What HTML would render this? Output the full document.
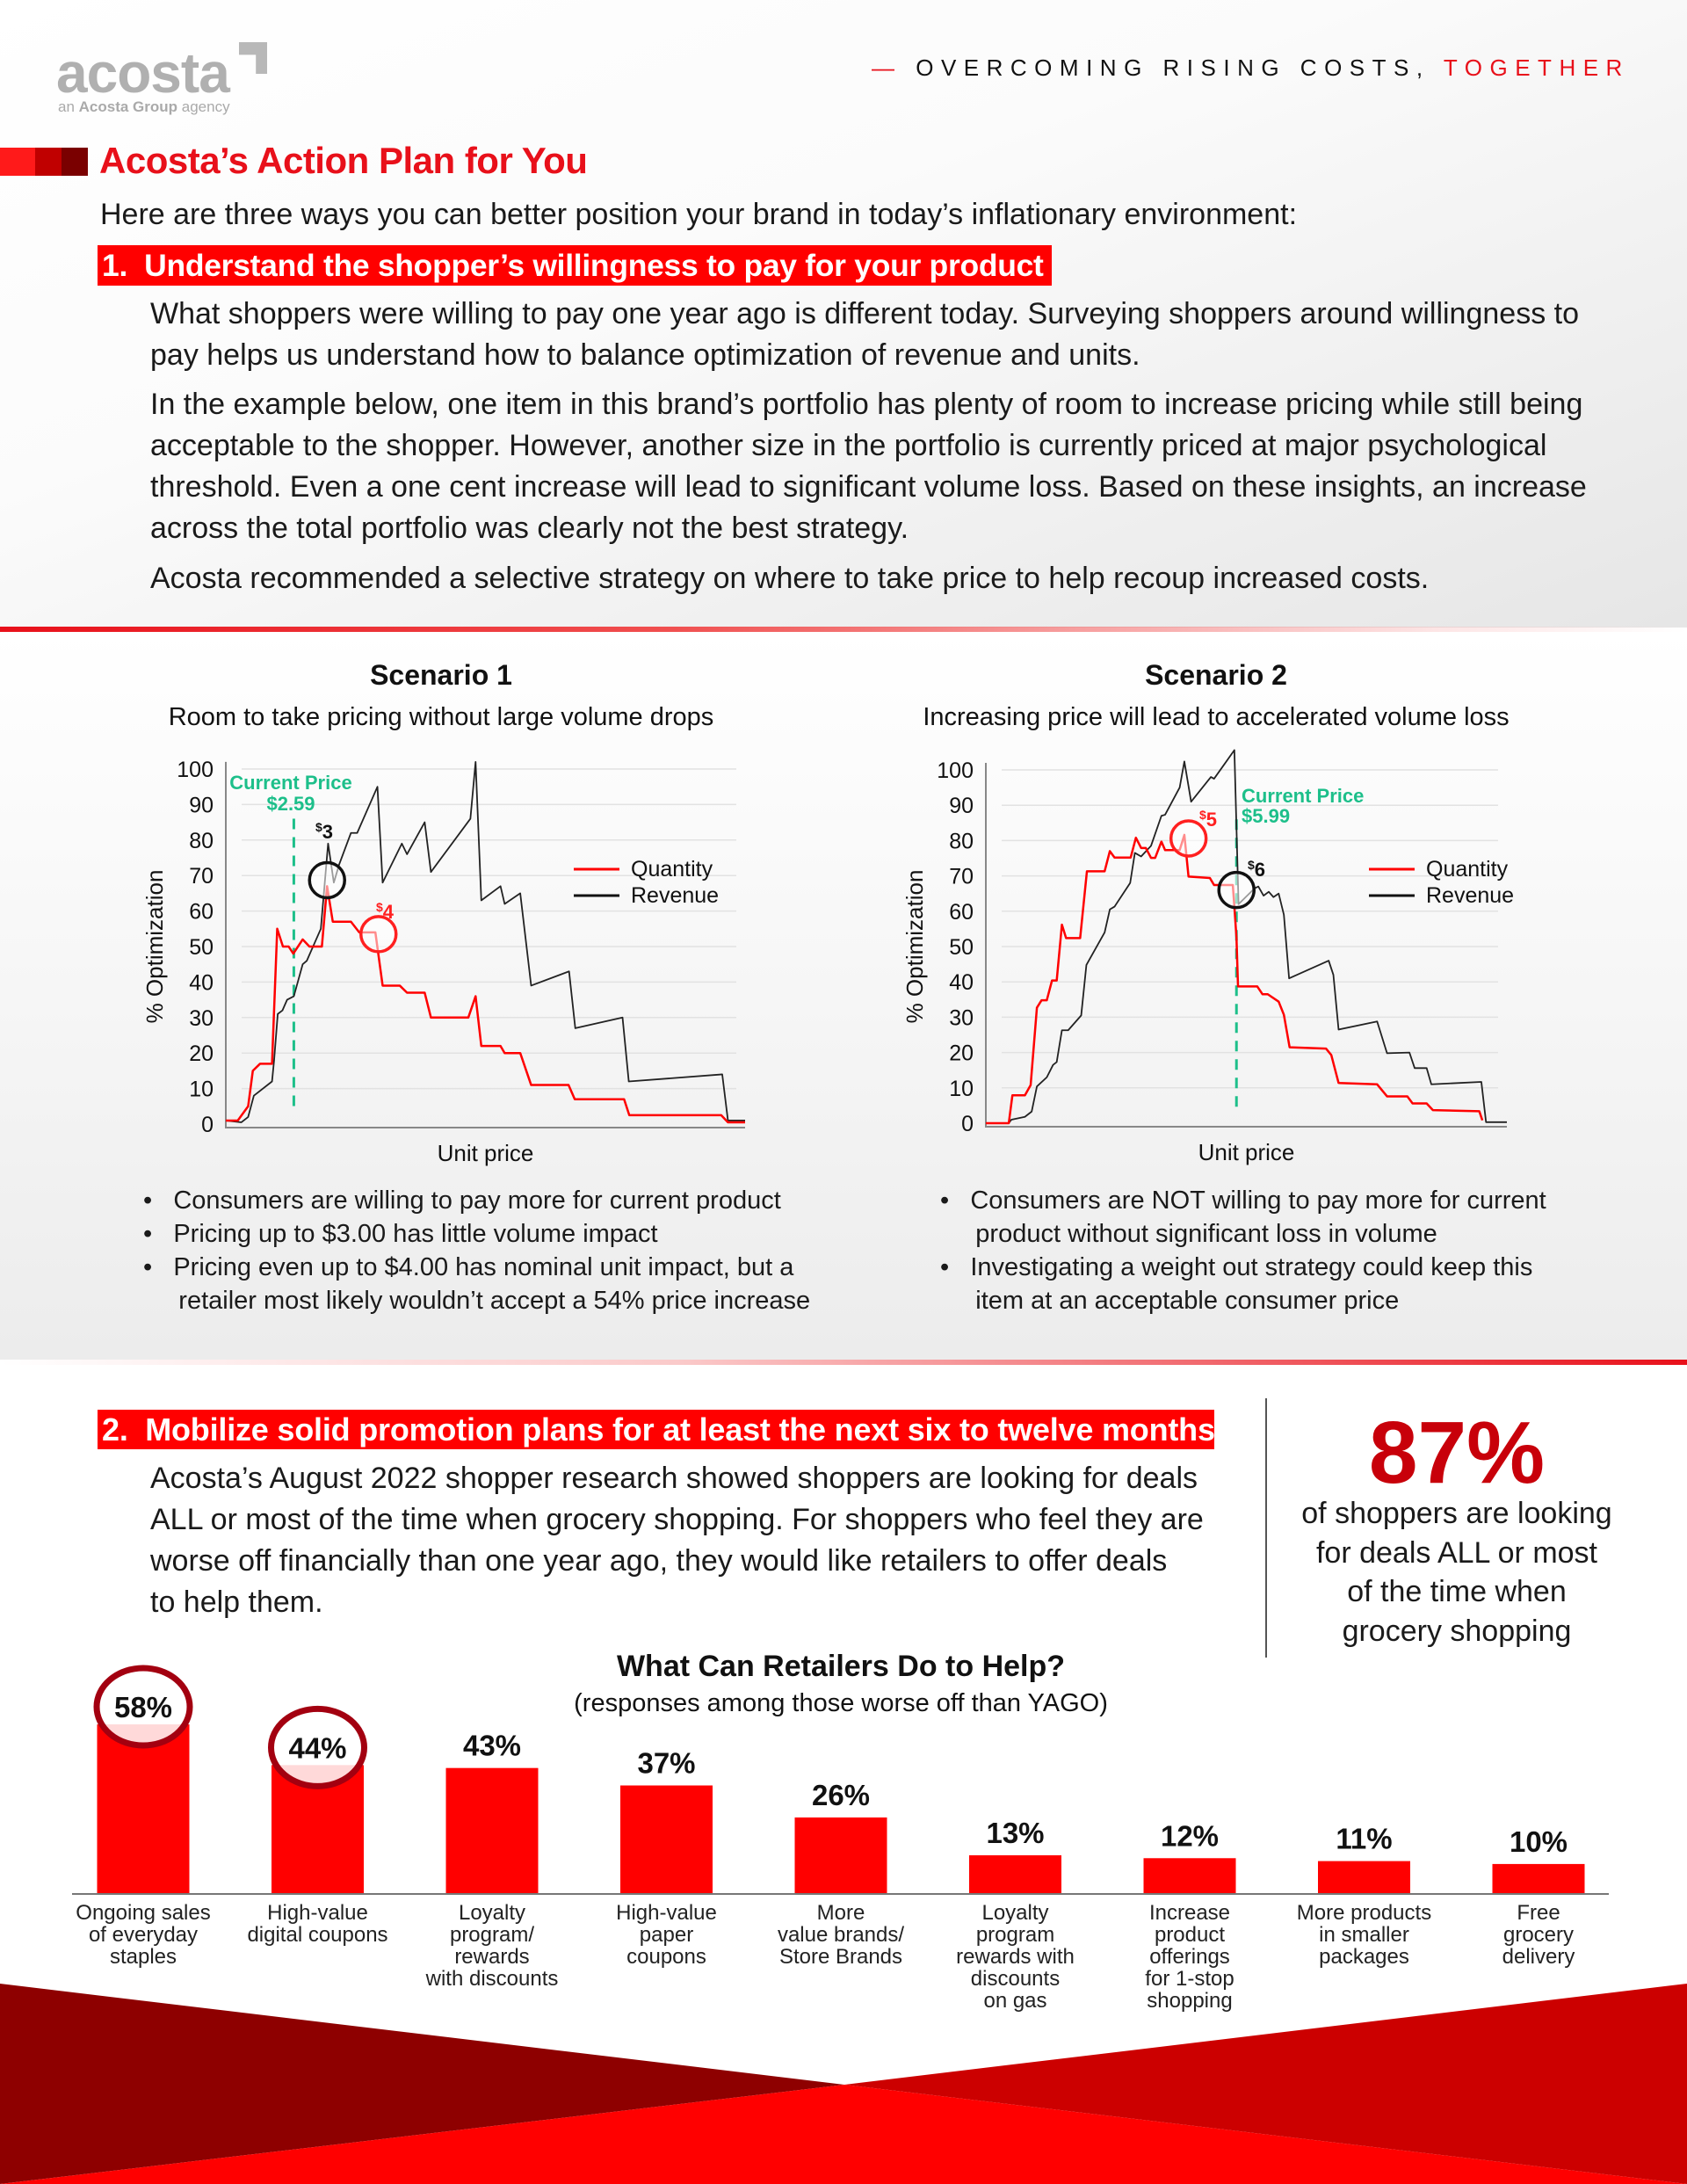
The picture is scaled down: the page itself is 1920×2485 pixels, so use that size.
<!DOCTYPE html>
<html><head><meta charset="utf-8">
<style>
*{margin:0;padding:0;box-sizing:border-box}
body{width:1920px;height:2485px;position:relative;overflow:hidden;font-family:"Liberation Sans",Arial,sans-serif;color:#111;background:#fff}
.a{position:absolute;white-space:nowrap}
.p{font-size:34px;line-height:47px;color:#1a1a1a}
.bul{font-size:29px;line-height:38px;color:#1a1a1a}
</style></head><body>
<div class="a" style="left:0;top:0;width:1920px;height:714px;background:linear-gradient(160deg,#fff 0%,#fbfbfb 40%,#e6e6e6 100%)"></div>
<div class="a" style="left:0;top:713px;width:1920px;height:6px;background:linear-gradient(90deg,#e8101a 0%,#f05050 40%,rgba(240,80,80,0.15) 85%,rgba(255,255,255,0) 100%)"></div>
<div class="a" style="left:0;top:719px;width:1920px;height:828px;background:linear-gradient(180deg,#fff 0%,#f6f6f6 50%,#ececec 100%)"></div>
<div class="a" style="left:0;top:1547px;width:1920px;height:6px;background:linear-gradient(90deg,rgba(255,255,255,0) 0%,rgba(240,80,80,0.3) 40%,#e8101a 100%)"></div>

<div class="a" style="left:64px;top:46px;font-size:64px;font-weight:bold;color:#b0b0b0;letter-spacing:-1px">acosta</div>
<div class="a" style="left:272px;top:48px;width:32px;height:36px;background:#b8b8b8;clip-path:polygon(0 0,100% 0,100% 100%,60% 100%,60% 40%,0 40%)"></div>
<div class="a" style="left:66px;top:112px;font-size:17px;color:#aaa">an <b>Acosta Group</b> agency</div>
<div class="a" style="left:992px;top:62px;font-size:26px;letter-spacing:8.5px;color:#111"><span style="color:#e8101a">—</span> OVERCOMING RISING COSTS, <span style="color:#e8101a">TOGETHER</span></div>

<div class="a" style="left:0;top:168px;width:100px;height:32px;background:linear-gradient(90deg,#ff1a1a 0%,#ff1a1a 40%,#c00000 40%,#c00000 70%,#7a0000 70%)"></div>
<div class="a" style="left:113px;top:159px;font-size:42px;font-weight:bold;color:#e8101a;letter-spacing:-0.5px">Acosta’s Action Plan for You</div>
<div class="a p" style="left:114px;top:221px">Here are three ways you can better position your brand in today’s inflationary environment:</div>
<div class="a" style="left:111px;top:279px;width:1086px;height:46px;background:#ff0000;color:#fff;font-size:35.5px;font-weight:bold;line-height:46px;padding-left:5px;letter-spacing:-0.3px">1.&nbsp; Understand the shopper’s willingness to pay for your product</div>
<div class="a p" style="left:171px;top:334px">What shoppers were willing to pay one year ago is different today. Surveying shoppers around willingness to<br>pay helps us understand how to balance optimization of revenue and units.</div>
<div class="a p" style="left:171px;top:437px;line-height:47px">In the example below, one item in this brand’s portfolio has plenty of room to increase pricing while still being<br>acceptable to the shopper. However, another size in the portfolio is currently priced at major psychological<br>threshold. Even a one cent increase will lead to significant volume loss. Based on these insights, an increase<br>across the total portfolio was clearly not the best strategy.</div>
<div class="a p" style="left:171px;top:635px">Acosta recommended a selective strategy on where to take price to help recoup increased costs.</div>

<div class="a" style="left:302px;top:750px;width:400px;text-align:center;font-size:32px;font-weight:bold">Scenario 1</div>
<div class="a" style="left:102px;top:800px;width:800px;text-align:center;font-size:29px">Room to take pricing without large volume drops</div>
<div class="a" style="left:1184px;top:750px;width:400px;text-align:center;font-size:32px;font-weight:bold">Scenario 2</div>
<div class="a" style="left:984px;top:800px;width:800px;text-align:center;font-size:29px">Increasing price will lead to accelerated volume loss</div>

<svg class="a" id="chart1" style="left:0;top:840px" width="960" height="500"></svg>
<svg class="a" id="chart2" style="left:960px;top:840px" width="960" height="500"></svg>

<div class="a bul" style="left:163px;top:1347px">•&nbsp;&nbsp; Consumers are willing to pay more for current product<br>•&nbsp;&nbsp; Pricing up to $3.00 has little volume impact<br>•&nbsp;&nbsp; Pricing even up to $4.00 has nominal unit impact, but a<br>&nbsp;&nbsp;&nbsp;&nbsp; retailer most likely wouldn’t accept a 54% price increase</div>
<div class="a bul" style="left:1070px;top:1347px">•&nbsp;&nbsp; Consumers are NOT willing to pay more for current<br>&nbsp;&nbsp;&nbsp;&nbsp; product without significant loss in volume<br>•&nbsp;&nbsp; Investigating a weight out strategy could keep this<br>&nbsp;&nbsp;&nbsp;&nbsp; item at an acceptable consumer price</div>

<div class="a" style="left:111px;top:1604px;width:1271px;height:45px;background:#ff0000;color:#fff;font-size:36px;font-weight:bold;line-height:45px;padding-left:5px;letter-spacing:-0.2px">2.&nbsp; Mobilize solid promotion plans for at least the next six to twelve months</div>
<div class="a p" style="left:171px;top:1659px">Acosta’s August 2022 shopper research showed shoppers are looking for deals<br>ALL or most of the time when grocery shopping. For shoppers who feel they are<br>worse off financially than one year ago, they would like retailers to offer deals<br>to help them.</div>
<div class="a" style="left:1440px;top:1591px;width:2px;height:295px;background:#555"></div>
<div class="a" style="left:1458px;top:1598px;width:400px;text-align:center;font-size:100px;font-weight:bold;color:#c8000a;line-height:110px">87%</div>
<div class="a" style="left:1458px;top:1700px;width:400px;text-align:center;font-size:34px;line-height:44.5px;color:#1a1a1a">of shoppers are looking<br>for deals ALL or most<br>of the time when<br>grocery shopping</div>

<div class="a" style="left:557px;top:1877px;width:800px;text-align:center;font-size:34px;font-weight:bold">What Can Retailers Do to Help?</div>
<div class="a" style="left:557px;top:1922px;width:800px;text-align:center;font-size:29px">(responses among those worse off than YAGO)</div>

<svg class="a" id="bottom" style="left:0;top:2250px" width="1920" height="235">
<polygon points="0,7 961,122 0,235" fill="#8e0000"/>
<polygon points="1920,7 961,122 1920,235" fill="#cc0000"/>
<polygon points="0,235 961,122 1920,235" fill="#ff0000"/>
</svg>
<svg class="a" id="bars" style="left:0;top:1850px" width="1920" height="450"></svg>

<script>
// Scenario 1 data (price index 0-100, % optimization)
const s1RevX=[0,3,4.3,5.4,8.9,9.3,10,10.9,11.8,13.1,14.8,15.6,18.3,19.7,20.8,21.8,24.1,25.3,29.2,30.2,33.9,34.9,38.3,39.5,47.1,48.1,49.2,52.9,53.7,56.7,58.8,66.1,67.3,76.4,77.6,95.6,96.7,100];
const s1RevY=[1,0.5,2,8,12,18,31,32,35,36,45,46,55,79,68,73,82,82,95,68,79,76,85,71,86,102,63,67,62,65,39,43,27,30,12,14,1,1];
const s1QtyX=[0,2.3,4.3,5.2,6.6,8.9,9.9,11,12.1,13,14.8,16.1,18.5,19.5,20.6,24.1,25.7,28.8,30.2,33.5,34.9,38.3,39.5,46.7,48.1,49.2,52.9,53.7,56.7,58.8,66,67.2,76.7,77.7,95.4,96.7,100];
const s1QtyY=[1,1,5,15,17,17,55,50,50,48,52,50,50,67,57,57,54,54,39,39,37,37,30,30,36,22,22,20,20,11,11,7,7,2.5,2.5,0.5,0.5];
const s1Current=13.1, s1CircleA=[19.5,68.7], s1CircleB=[29.4,53.5];
// Scenario 2 data
const s2RevX=[0,4.4,4.9,7.5,8.8,9.8,11.7,12.9,13.6,14.6,15.8,18.3,19.3,22.8,23.8,24.7,27.7,28.6,29.8,31.7,33.7,34.4,37.2,38.1,39.4,43.2,43.8,47.7,48.5,51.6,52.3,53.3,54.3,55.2,56.2,57.2,58.2,65.8,66.7,67.7,75.1,77,81.3,82.3,84.6,85.5,95.1,96,100];
const s2RevY=[0,0,1,1.8,3.3,10.4,13,16.5,17.3,26.3,26.3,30.5,44.8,54,60.5,61.3,68,76.5,75.5,78.5,87,87.3,95,102.4,91,98,97.5,105.6,62,66.5,67,64.4,65.5,64,65,59,41,46,42,26.5,28.8,19.8,20,15.6,15.6,11,11.7,0.3,0.3];
const s2QtyX=[0,4.4,5.1,7.5,8.6,9.8,10.7,11.7,12.7,13.6,14.6,15.4,18.1,19.4,22.8,23.8,24.7,27.8,28.8,29.8,30.7,31.7,32.5,33.7,34.4,37.2,38.1,38.9,43,43.8,47.4,47.7,48.1,48.4,52.1,53.1,54.1,56.2,57.2,58.3,65.3,66.3,67.7,75.1,77,80.9,81.9,84.6,85.8,94.7,95.3];
const s2QtyY=[0,0,7.9,7.9,10.8,32.7,34.8,34.8,40.4,40.4,56.2,52.4,52.4,71.3,71.3,77,75.2,75.2,80.8,77.9,77.9,75.1,75.1,79.7,77.3,77.3,81.6,69.8,69.4,67.4,67.4,61.3,52.6,38.7,38.7,36.5,36.5,34.4,30.7,21.5,21.1,19.3,11.4,11,7.6,7.6,5.6,5.6,3.7,3.4,0.8];
const s2Current=48.1, s2CircleA=[38.9,80.6], s2CircleB=[48.1,66];
const yTicks=[0,10,20,30,40,50,60,70,80,90,100];
// Bar chart data
const barValues=[58,44,43,37,26,13,12,11,10];
const barLabels=["58%","44%","43%","37%","26%","13%","12%","11%","10%"];
const barCategories=[["Ongoing sales","of everyday","staples"],["High-value","digital coupons"],["Loyalty","program/","rewards","with discounts"],["High-value","paper","coupons"],["More","value brands/","Store Brands"],["Loyalty","program","rewards with","discounts","on gas"],["Increase","product","offerings","for 1-stop","shopping"],["More products","in smaller","packages"],["Free","grocery","delivery"]];
const highlighted=[0,1];

const NS="http://www.w3.org/2000/svg";
function mk(parent,tag,attrs,txt){const e=document.createElementNS(NS,tag);for(const k in attrs)e.setAttribute(k,attrs[k]);if(txt!==undefined)e.textContent=txt;parent.appendChild(e);return e;}

function drawChart(svg,cfg,revX,revY,qtyX,qtyY,cur,cA,cB){
  const sx=v=>cfg.x0+(cfg.x1-cfg.x0)*v/100;
  const sy=v=>cfg.y0-(cfg.y0-cfg.y100)*v/100;
  yTicks.forEach(t=>{
    if(t>0){const g=mk(svg,'line',{x1:cfg.x0+18,x2:cfg.x1-10,y1:sy(t),y2:sy(t),stroke:'#e2e2e2','stroke-width':1.5});
    
    }
    const tl=mk(svg,'text',{x:cfg.x0-14,y:sy(t)+9,'text-anchor':'end','font-size':25,fill:'#111'},String(t));
    
    
  });
  const ax=mk(svg,'path',{d:`M${cfg.x0},${sy(102)}V${cfg.y0+4}H${cfg.x1}`,fill:'none',stroke:'#888','stroke-width':2});
  
  
  const yl=mk(svg,'text',{x:0,y:0,'font-size':26,fill:'#111','text-anchor':'middle',transform:`translate(${cfg.x0-72},${sy(50)}) rotate(-90)`},'% Optimization');
  
  
  const xl=mk(svg,'text',{x:(cfg.x0+cfg.x1)/2,y:cfg.y0+42,'font-size':26,fill:'#111','text-anchor':'middle'},'Unit price');
  
  
  const dl=mk(svg,'line',{x1:sx(cur),x2:sx(cur),y1:sy(cfg.dashTop),y2:sy(3),stroke:'#1dbf8a','stroke-width':3,'stroke-dasharray':'12,9'});
  
  
  const rp=mk(svg,'polyline',{points:revX.map((x,i)=>sx(x)+','+sy(revY[i])).join(' '),fill:'none',stroke:'#222','stroke-width':1.8,'stroke-linejoin':'round'});
  
  
  const qp=mk(svg,'polyline',{points:qtyX.map((x,i)=>sx(x)+','+sy(qtyY[i])).join(' '),fill:'none',stroke:'#ff0000','stroke-width':2.5,'stroke-linejoin':'round'});
  
  
  const c1=mk(svg,'circle',{cx:sx(cA[0]),cy:sy(cA[1]),r:20,fill:'rgba(255,255,255,0.55)',stroke:cfg.colA,'stroke-width':3.5});
  
  
  const c2=mk(svg,'circle',{cx:sx(cB[0]),cy:sy(cB[1]),r:20,fill:'rgba(255,255,255,0.55)',stroke:cfg.colB,'stroke-width':3.5});
  
  
  cfg.labels.forEach(l=>{
    const t=mk(svg,'text',{x:l[0],y:l[1],'font-size':l[3],'font-weight':'bold',fill:l[2],'text-anchor':l[4]||'middle'});
    t.innerHTML=l[5];
    
    
  });
  [['Quantity','#ff0000',cfg.leg[1]],['Revenue','#111',cfg.leg[1]+30]].forEach(L=>{
    const ll=mk(svg,'line',{x1:cfg.leg[0],x2:cfg.leg[0]+52,y1:L[2],y2:L[2],stroke:L[1],'stroke-width':3});
    
    
    const lt=mk(svg,'text',{x:cfg.leg[0]+65,y:L[2]+8,'font-size':25,fill:'#111'},L[0]);
    
    
  });
}
drawChart(document.getElementById('chart1'),{x0:257,x1:848,y0:439,y100:35,dashTop:86,colA:'#111',colB:'#ff2020',leg:[653,149],
 labels:[[331,58,'#1dbf8a',22,'middle','Current Price'],[331,82,'#1dbf8a',22,'middle','$2.59'],[369,114,'#111',22,'middle','<tspan font-size="14" dy="-8">$</tspan><tspan dy="8">3</tspan>'],[438,205,'#ff2020',22,'middle','<tspan font-size="14" dy="-8">$</tspan><tspan dy="8">4</tspan>']]},
 s1RevX,s1RevY,s1QtyX,s1QtyY,s1Current,s1CircleA,s1CircleB);
drawChart(document.getElementById('chart2'),{x0:162,x1:755,y0:438,y100:36,dashTop:86,colA:'#ff2020',colB:'#111',leg:[598,149],
 labels:[[453,73,'#1dbf8a',22,'start','Current Price'],[453,96,'#1dbf8a',22,'start','$5.99'],[415,100,'#ff2020',22,'middle','<tspan font-size="14" dy="-8">$</tspan><tspan dy="8">5</tspan>'],[470,157,'#111',22,'middle','<tspan font-size="14" dy="-8">$</tspan><tspan dy="8">6</tspan>']]},
 s2RevX,s2RevY,s2QtyX,s2QtyY,s2Current,s2CircleA,s2CircleB);

// Bars
(function(){
  const svg=document.getElementById('bars');
  const base=304, pxPer=3.31, first=163, step=198.5, bw=105;
  const ax=mk(svg,'line',{x1:82,x2:1831,y1:base+1,y2:base+1,stroke:'#777','stroke-width':2});
  
  
  barValues.forEach((v,i)=>{
    const cx=first+i*step, h=v*pxPer;
    const r=mk(svg,'rect',{x:cx-bw/2,y:base-h,width:bw,height:h,fill:'#ff0000'});
    
    
    if(highlighted.includes(i)){
      const e=mk(svg,'ellipse',{cx:cx,cy:base-h-20,rx:53,ry:44,fill:'rgba(255,255,255,0.85)',stroke:'#a30010','stroke-width':7});
      
      
    }
    const t=mk(svg,'text',{x:cx,y:base-h-(highlighted.includes(i)?8:14),'text-anchor':'middle','font-size':33,'font-weight':'bold',fill:'#111'},barLabels[i]);
    
    
    barCategories[i].forEach((line,j)=>{
      const c=mk(svg,'text',{x:cx,y:base+30+j*25,'text-anchor':'middle','font-size':24,fill:'#222'},line);
      
      
    });
  });
})();
</script>
</body></html>
